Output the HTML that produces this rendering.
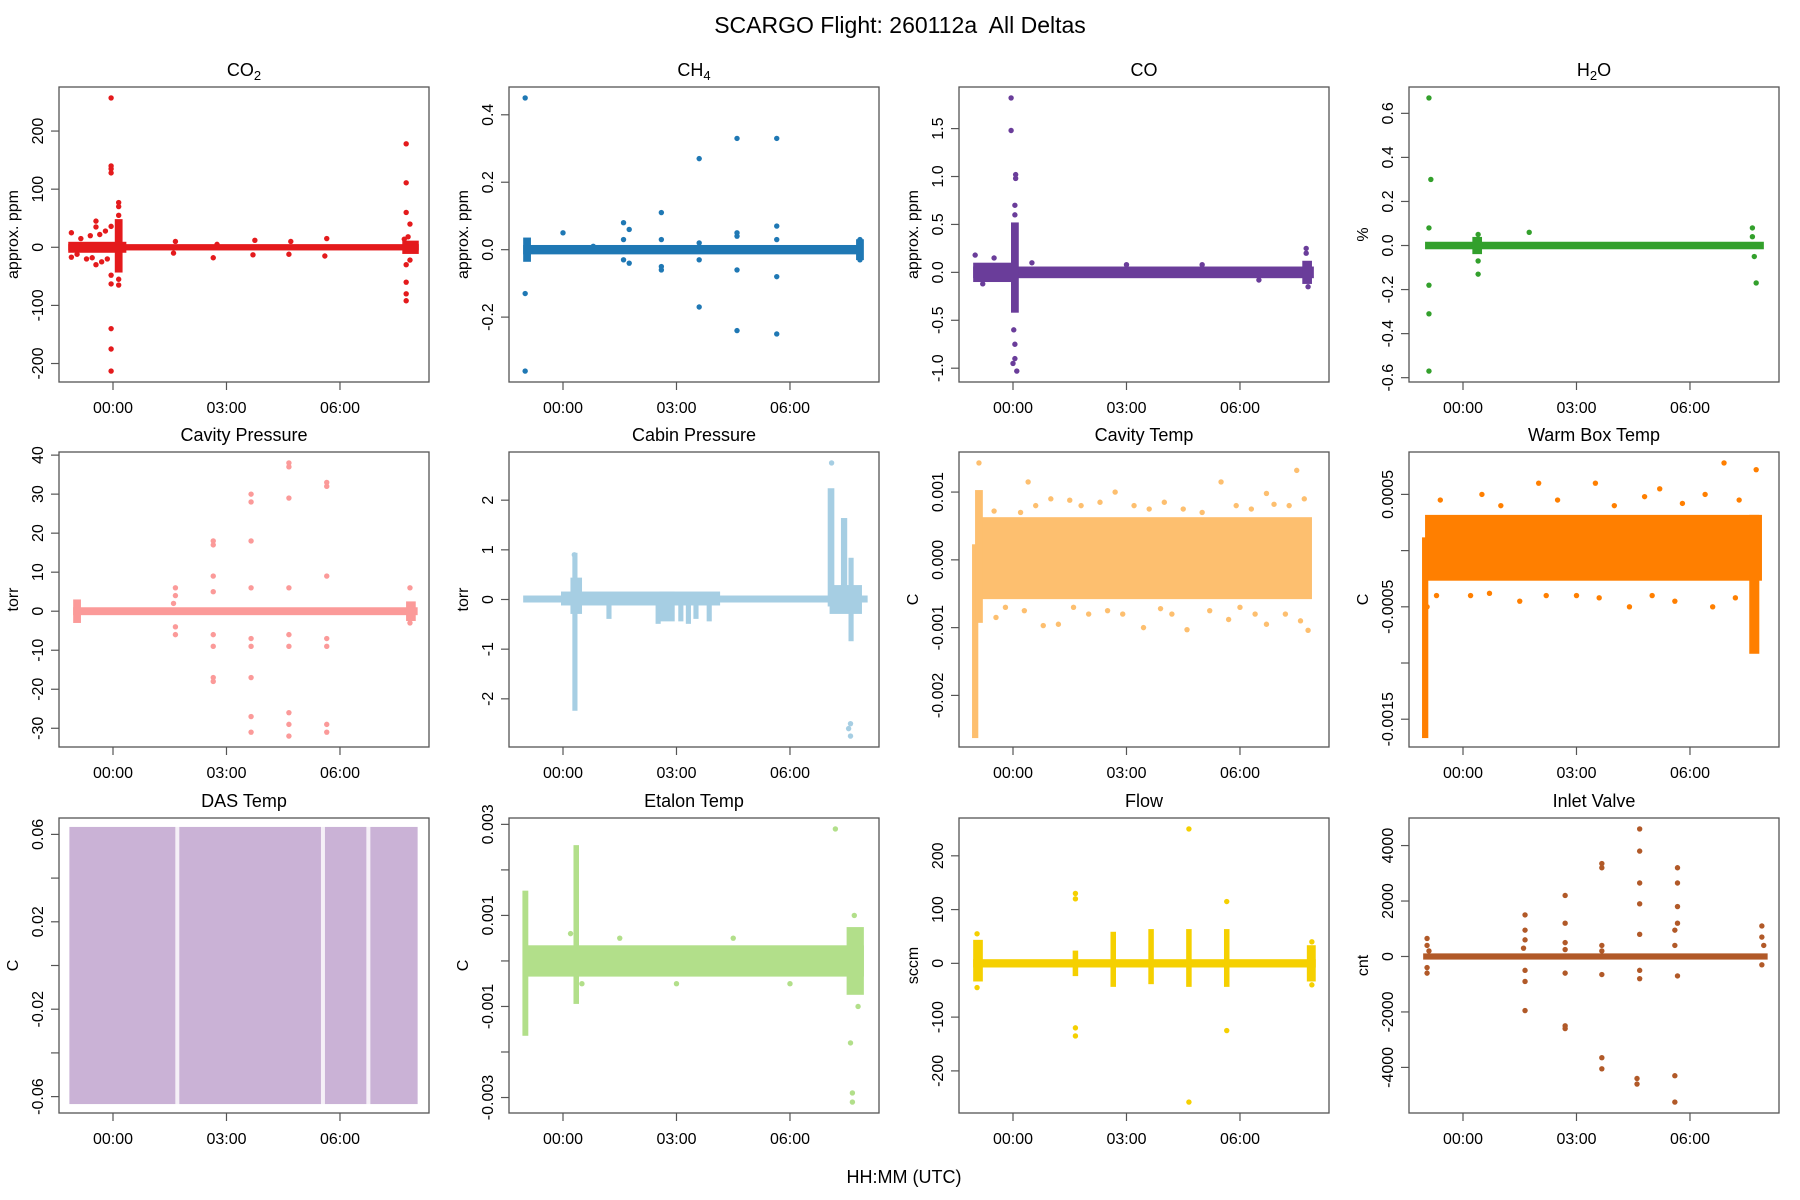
<!DOCTYPE html>
<html><head><meta charset="utf-8"><title>SCARGO Flight Deltas</title>
<style>
html,body{margin:0;padding:0;background:#fff;}
svg{display:block;font-family:"Liberation Sans",Arial,sans-serif;}
</style></head>
<body>
<svg id="chart" width="1800" height="1200" viewBox="0 0 1800 1200" xmlns="http://www.w3.org/2000/svg">
<rect width="1800" height="1200" fill="#fff"/>
<text x="900" y="33" text-anchor="middle" font-size="23" fill="#000" style="white-space:pre">SCARGO Flight: 260112a  All Deltas</text>
<text x="904" y="1183" text-anchor="middle" font-size="18" fill="#000">HH:MM (UTC)</text>
</svg>
<script>
// ---------- data (time in hours from 00:00 UTC) ----------
const timeTicks = [0, 3, 6];
const timeTickLabels = ["00:00", "03:00", "06:00"];

const co2Bands = [[-1.13,8.03,-2,2],[-1.13,0.3,-6,6],[7.7,8.03,-8,8],[0.1,0.2,-40,45]];
const co2Points = [[-0.05,257],[-0.05,140],[-0.05,135],[-0.05,128],[-0.05,-63],[-0.05,-140],[-0.05,-175],[-0.05,-213],[-0.05,36],[-0.05,-48],[0.15,77],[0.15,70],[0.15,-65],[0.15,55],[0.15,-55],[-0.45,45],[-0.45,35],[-0.45,-30],[-0.6,20],[-0.3,-25],[-1.1,25],[-1.1,-17],[-0.2,28],[-0.7,-20],[-0.85,15],[-0.95,-12],[-0.55,-18],[-0.35,22],[-0.15,-20],[1.65,10],[1.6,-10],[2.65,-18],[2.75,5],[3.75,12],[3.7,-13],[4.7,10],[4.65,-12],[5.6,-15],[5.65,15],[7.75,178],[7.75,111],[7.75,60],[7.85,40],[7.75,-30],[7.75,-60],[7.75,-80],[7.75,-92],[7.85,-22],[7.8,18],[7.7,14]];
const co2Ticks = [-200,-100,0,100,200];
const co2TickLabels = ["-200","-100","0","100","200"];

const ch4Bands = [[-1.0,7.85,-0.008,0.008],[-1.0,-0.9,-0.03,0.03],[7.8,7.9,-0.025,0.025]];
const ch4Points = [[-1.0,0.45],[-1.0,-0.36],[-1.0,-0.13],[0.0,0.05],[1.6,0.08],[1.6,0.03],[1.6,-0.03],[1.75,0.06],[1.75,-0.04],[2.6,0.11],[2.6,-0.06],[2.6,-0.05],[2.6,0.03],[3.6,0.27],[3.6,-0.17],[3.6,0.02],[3.6,-0.03],[4.6,0.33],[4.6,-0.24],[4.6,0.05],[4.6,-0.06],[4.6,0.04],[5.65,0.33],[5.65,-0.25],[5.65,0.07],[5.65,-0.08],[5.65,0.03],[0.8,0.01],[7.85,0.03],[7.85,-0.03]];
const ch4Ticks = [-0.2,0,0.2,0.4];
const ch4TickLabels = ["-0.2","0.0","0.2","0.4"];

const coBands = [[-1.0,7.9,-0.04,0.04],[-1.0,0.0,-0.08,0.08],[0.0,0.1,-0.4,0.5],[7.7,7.85,-0.1,0.1]];
const coPoints = [[-0.05,1.82],[-0.05,1.48],[0.07,1.02],[0.07,0.98],[0.05,0.7],[0.05,0.6],[0.02,-0.6],[0.05,-0.9],[0.1,-1.03],[0.0,-0.95],[0.05,-0.75],[7.75,0.25],[7.75,0.2],[7.8,-0.15],[-1.0,0.18],[-0.5,0.15],[-0.8,-0.12],[0.5,0.1],[3.0,0.08],[5.0,0.08],[6.5,-0.08]];
const coTicks = [-1.0,-0.5,0,0.5,1.0,1.5];
const coTickLabels = ["-1.0","-0.5","0.0","0.5","1.0","1.5"];

const h2oBands = [[-0.95,7.9,-0.008,0.008],[0.3,0.45,-0.03,0.03]];
const h2oPoints = [[-0.9,0.67],[-0.85,0.3],[-0.9,0.08],[-0.9,-0.57],[-0.9,-0.31],[-0.9,-0.18],[0.4,-0.13],[0.4,-0.07],[0.4,0.05],[1.75,0.06],[7.65,0.08],[7.75,-0.17],[7.7,-0.05],[7.65,0.04]];
const h2oTicks = [-0.6,-0.4,-0.2,0,0.2,0.4,0.6];
const h2oTickLabels = ["-0.6","-0.4","-0.2","0.0","0.2","0.4","0.6"];

const cavpBands = [[-1.0,8.0,-0.5,0.5],[-1.0,-0.9,-2.5,2.5],[7.8,7.95,-2,2]];
const cavpPoints = [[1.65,6],[1.65,4],[1.65,-4],[1.65,-6],[1.6,2],[2.65,18],[2.65,17],[2.65,9],[2.65,5],[2.65,-6],[2.65,-9],[2.65,-17],[2.65,-18],[3.65,30],[3.65,28],[3.65,18],[3.65,6],[3.65,-7],[3.65,-9],[3.65,-17],[3.65,-27],[3.65,-31],[4.65,38],[4.65,37],[4.65,29],[4.65,6],[4.65,-6],[4.65,-9],[4.65,-26],[4.65,-29],[4.65,-32],[5.65,33],[5.65,32],[5.65,9],[5.65,-7],[5.65,-9],[5.65,-29],[5.65,-31],[7.85,6],[7.85,-3]];
const cavpTicks = [-30,-20,-10,0,10,20,30,40];
const cavpTickLabels = ["-30","-20","-10","0","10","20","30","40"];

const cabBands = [[-1.0,8.0,-0.02,0.04],[0.0,4.1,-0.08,0.12],[0.25,0.45,-0.25,0.4],[0.3,0.33,-2.2,0.9],[1.2,1.23,-0.35,0.1],[2.5,2.53,-0.45,0.1],[2.6,2.9,-0.4,0.12],[3.1,3.13,-0.4,0.1],[3.3,3.33,-0.45,0.1],[3.5,3.53,-0.35,0.1],[3.85,3.88,-0.4,0.1],[7.05,7.12,-0.1,2.2],[7.1,7.85,-0.25,0.25],[7.4,7.46,-0.2,1.6],[7.6,7.63,-0.8,0.8]];
const cabPoints = [[7.1,2.75],[7.6,-2.5],[7.6,-2.75],[7.55,-2.6],[0.3,0.9]];
const cabTicks = [-2,-1,0,1,2];
const cabTickLabels = ["-2","-1","0","1","2"];

const ctBands = [[-0.9,7.85,-0.00055,0.0006],[-1.03,-0.97,-0.0026,0.0002],[-0.95,-0.85,-0.0009,0.001]];
const ctPoints = [[-0.9,0.00143],[7.5,0.00132],[0.4,0.00115],[5.5,0.00115],[2.7,0.001],[6.7,0.00098],[1.0,0.0009],[4.0,0.00085],[0.8,-0.00097],[1.2,-0.00095],[3.45,-0.001],[4.6,-0.00103],[6.7,-0.00095],[7.8,-0.00104],[-0.45,-0.00085],[2.0,-0.0008],[5.7,-0.00088],[-0.5,0.00072],[0.2,0.0007],[0.6,0.0008],[1.5,0.00088],[1.8,0.0008],[2.3,0.00085],[3.2,0.0008],[3.6,0.00075],[4.5,0.00075],[5.0,0.0007],[5.9,0.0008],[6.3,0.00075],[6.9,0.00082],[7.3,0.0008],[7.7,0.0009],[-0.2,-0.0007],[0.3,-0.00075],[1.6,-0.0007],[2.5,-0.00075],[2.9,-0.0008],[3.9,-0.00072],[4.2,-0.0008],[5.2,-0.00075],[6.0,-0.0007],[6.4,-0.0008],[7.2,-0.0008],[7.6,-0.0009]];
const ctTicks = [-0.002,-0.001,0,0.001];
const ctTickLabels = ["-0.002","-0.001","0.000","0.001"];

const wbBands = [[-0.95,7.85,-0.00025,0.0003],[-1.03,-0.97,-0.00165,0.0001],[7.62,7.78,-0.0009,0.0003]];
const wbPoints = [[6.9,0.00078],[7.75,0.00072],[2.0,0.0006],[3.5,0.0006],[0.5,0.0005],[5.2,0.00055],[4.4,-0.0005],[6.6,-0.0005],[1.5,-0.00045],[0.2,-0.0004],[3.0,-0.0004],[-0.6,0.00045],[1.0,0.0004],[2.5,0.00045],[4.0,0.0004],[4.8,0.00048],[5.8,0.00042],[6.4,0.0005],[7.3,0.00045],[-0.7,-0.0004],[0.7,-0.00038],[2.2,-0.0004],[3.6,-0.00042],[5.0,-0.0004],[5.6,-0.00045],[7.2,-0.00042],[-0.95,-0.0005]];
const wbTicks = [-0.0015,-0.001,-0.0005,0,0.0005];
const wbTickLabels = ["-0.0015","","-0.0005","","0.0005"];

const dasBands = [[-1.1,8.0,-0.0625,0.0625]];
const dasPoints = [];
const dasGaps = [1.7, 5.55, 6.75];
const dasTicks = [-0.06,-0.04,-0.02,0,0.02,0.04,0.06];
const dasTickLabels = ["-0.06","","-0.02","","0.02","","0.06"];

const etBands = [[-1.0,7.9,-0.0003,0.0003],[-1.02,-0.97,-0.0016,0.0015],[0.33,0.37,-0.0009,0.0025],[7.55,7.9,-0.0007,0.0007]];
const etPoints = [[7.2,0.0029],[7.65,-0.0029],[7.65,-0.0031],[7.6,-0.0018],[7.7,0.001],[7.8,-0.001],[0.2,0.0006],[0.5,-0.0005],[1.5,0.0005],[3.0,-0.0005],[4.5,0.0005],[6.0,-0.0005]];
const etTicks = [-0.003,-0.002,-0.001,0,0.001,0.002,0.003];
const etTickLabels = ["-0.003","","-0.001","","0.001","","0.003"];

const flowBands = [[-1.0,7.95,-4,4],[-1.0,-0.85,-30,40],[7.82,7.95,-30,30],[1.63,1.67,-20,20],[2.63,2.67,-40,55],[3.63,3.67,-35,60],[4.63,4.67,-40,60],[5.63,5.67,-40,60]];
const flowPoints = [[1.65,130],[1.65,120],[1.65,-120],[1.65,-135],[4.65,250],[4.65,-258],[5.65,115],[5.65,-125],[-0.95,55],[-0.95,-45],[7.9,40],[7.9,-40]];
const flowTicks = [-200,-100,0,100,200];
const flowTickLabels = ["-200","-100","0","100","200"];

const inletBands = [[-1.0,8.0,-40,40]];
const inletPoints = [[-0.95,650],[-0.95,-600],[-0.95,400],[-0.95,-400],[-0.9,200],[1.64,1500],[1.64,950],[1.64,600],[1.64,-500],[1.64,-900],[1.64,-1950],[1.6,300],[2.7,2200],[2.7,1200],[2.7,500],[2.7,-600],[2.7,-2500],[2.7,-2600],[2.7,250],[3.67,3350],[3.67,3200],[3.67,400],[3.67,-650],[3.67,-3650],[3.67,-4050],[3.67,200],[4.67,4600],[4.67,3800],[4.67,2650],[4.67,1900],[4.67,800],[4.67,-800],[4.67,-500],[4.6,-4400],[4.6,-4600],[5.67,3200],[5.67,2650],[5.67,1800],[5.67,1200],[5.6,950],[5.67,-700],[5.6,-4300],[5.6,-5250],[5.6,400],[7.9,1100],[7.9,700],[7.95,400],[7.9,-300]];
const inletTicks = [-4000,-2000,0,2000,4000];
const inletTickLabels = ["-4000","-2000","0","2000","4000"];

// ---------- layout ----------
const panels = [
 {name:"co2", title:"CO", sub:"2", ylab:"approx. ppm", color:"#e41a1c", bands:co2Bands, pts:co2Points, ticks:co2Ticks, labels:co2TickLabels},
 {name:"ch4", title:"CH", sub:"4", ylab:"approx. ppm", color:"#1f78b4", bands:ch4Bands, pts:ch4Points, ticks:ch4Ticks, labels:ch4TickLabels},
 {name:"co", title:"CO", sub:"", ylab:"approx. ppm", color:"#6a3d9a", bands:coBands, pts:coPoints, ticks:coTicks, labels:coTickLabels},
 {name:"h2o", title:"H", sub:"2", tail:"O", ylab:"%", color:"#33a02c", bands:h2oBands, pts:h2oPoints, ticks:h2oTicks, labels:h2oTickLabels},
 {name:"cavity-pressure", title:"Cavity Pressure", sub:"", ylab:"torr", color:"#fb9a99", bands:cavpBands, pts:cavpPoints, ticks:cavpTicks, labels:cavpTickLabels},
 {name:"cabin-pressure", title:"Cabin Pressure", sub:"", ylab:"torr", color:"#a6cee3", bands:cabBands, pts:cabPoints, ticks:cabTicks, labels:cabTickLabels},
 {name:"cavity-temp", title:"Cavity Temp", sub:"", ylab:"C", color:"#fdbf6f", bands:ctBands, pts:ctPoints, ticks:ctTicks, labels:ctTickLabels},
 {name:"warm-box-temp", title:"Warm Box Temp", sub:"", ylab:"C", color:"#ff7f00", bands:wbBands, pts:wbPoints, ticks:wbTicks, labels:wbTickLabels},
 {name:"das-temp", title:"DAS Temp", sub:"", ylab:"C", color:"#cab2d6", bands:dasBands, pts:dasPoints, ticks:dasTicks, labels:dasTickLabels, gaps:dasGaps},
 {name:"etalon-temp", title:"Etalon Temp", sub:"", ylab:"C", color:"#b2df8a", bands:etBands, pts:etPoints, ticks:etTicks, labels:etTickLabels},
 {name:"flow", title:"Flow", sub:"", ylab:"sccm", color:"#f5d000", bands:flowBands, pts:flowPoints, ticks:flowTicks, labels:flowTickLabels},
 {name:"inlet-valve", title:"Inlet Valve", sub:"", ylab:"cnt", color:"#b15928", bands:inletBands, pts:inletPoints, ticks:inletTicks, labels:inletTickLabels}
];
const colLeft = [59,509,959,1409], rowTop = [87,452,818], PW = 370, PH = 295;
const svg = document.getElementById('chart');
const NS = 'http://www.w3.org/2000/svg';
function mk(tag, attrs, parent){const e=document.createElementNS(NS,tag);for(const k in attrs)e.setAttribute(k,attrs[k]);parent.appendChild(e);return e;}

panels.forEach((p,i)=>{
  const L = colLeft[i%4], T = rowTop[Math.floor(i/4)], R = L+PW, B = T+PH;
  const g = mk('g',{},svg);
  
  
  let mn=Infinity,mx=-Infinity;
  p.bands.forEach(b=>{mn=Math.min(mn,b[2]);mx=Math.max(mx,b[3]);});
  p.pts.forEach(q=>{mn=Math.min(mn,q[1]);mx=Math.max(mx,q[1]);});
  const r=mx-mn, y0=mn-0.04*r, y1=mx+0.04*r;
  const xs = t => L + 54 + t*37.83;
  const ys = v => B - (v-y0)/(y1-y0)*PH;
  const rad = 2.7, brad = 2.0;
  const clip = 'clip'+i;
  const cp = mk('clipPath',{id:clip},g); mk('rect',{x:L,y:T,width:PW,height:PH},cp);
  const marks = mk('g',{'clip-path':'url(#'+clip+')'},g);
  p.bands.forEach((b,j)=>{
    const e = mk('rect',{x:xs(b[0])-brad,y:ys(b[3])-brad,width:xs(b[1])-xs(b[0])+2*brad,height:ys(b[2])-ys(b[3])+2*brad,fill:p.color},marks);
    
    
  });
  (p.gaps||[]).forEach(t=>{
    const e = mk('rect',{x:xs(t)-2,y:T,width:4,height:PH,fill:'#fff',opacity:0.8},marks);
    
    
  });
  p.pts.forEach(q=>{
    const e = mk('circle',{cx:xs(q[0]),cy:ys(q[1]),r:rad,fill:p.color},marks);
    
    
  });
  const box = mk('rect',{x:L,y:T,width:PW,height:PH,fill:'none',stroke:'#555','stroke-width':1.3},g);
  
  
  const tt = mk('text',{x:L+PW/2,y:T-11,'text-anchor':'middle','font-size':18,fill:'#000'},g);
  
  
  tt.appendChild(document.createTextNode(p.title));
  if(p.sub){const s=mk('tspan',{'font-size':13,dy:4},tt);s.textContent=p.sub;}
  if(p.tail){const s=mk('tspan',{dy:-4},tt);s.textContent=p.tail;}
  timeTicks.forEach((t,j)=>{
    const x=xs(t);
    mk('line',{x1:x,y1:B,x2:x,y2:B+8,stroke:'#555','stroke-width':1.2},g);
    const e=mk('text',{x:x,y:B+31,'text-anchor':'middle','font-size':16,fill:'#000'},g);
    
    
    e.textContent=timeTickLabels[j];
  });
  p.ticks.forEach((v,j)=>{
    const y=ys(v);
    mk('line',{x1:L-8,y1:y,x2:L,y2:y,stroke:'#555','stroke-width':1.2},g);
    if(p.labels[j]){
      const e=mk('text',{x:0,y:0,'text-anchor':'middle','font-size':16,fill:'#000',transform:`translate(${L-16},${y}) rotate(-90)`},g);
      
      
      e.textContent=p.labels[j];
    }
  });
  const yl=mk('text',{x:0,y:0,'text-anchor':'middle','font-size':16,fill:'#000',transform:`translate(${L-41},${T+PH/2}) rotate(-90)`},g);
  
  
  yl.textContent=p.ylab;
});
</script>
</body></html>
